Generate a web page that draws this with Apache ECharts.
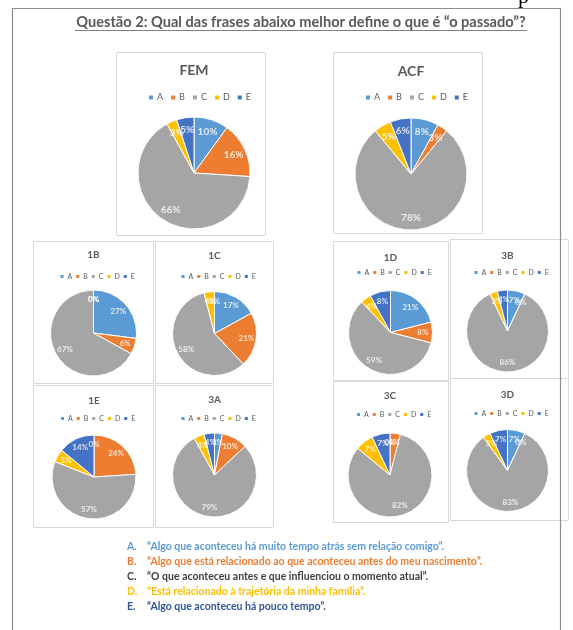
<!DOCTYPE html>
<html>
<head>
<meta charset="utf-8">
<script src="https://cdn.jsdelivr.net/npm/echarts@6/dist/echarts.min.js"></script>
<style>
html,body{margin:0;padding:0;background:#fff;}
#c{width:573px;height:630px;}
</style>
</head>
<body>
<div id="c"></div>
<script>
// Answer options and their colours
const categories = ['A', 'B', 'C', 'D', 'E'];
const sliceColors = ['#5B9BD5', '#ED7D31', '#A5A5A5', '#FFC000', '#4472C4'];

// Group names and percentage of answers per option (A..E)
const panelNames = ['FEM', 'ACF', '1B', '1C', '1D', '3B', '1E', '3A', '3C', '3D'];
const femValues = [10, 16, 66, 3, 5];
const acfValues = [8, 3, 78, 5, 6];
const t1BValues = [27, 6, 67, 0, 0];
const t1CValues = [17, 21, 58, 4, 0];
const t1DValues = [21, 8, 59, 4, 8];
const t3BValues = [7, 0, 86, 3, 4];
const t1EValues = [0, 24, 57, 5, 14];
const t3AValues = [3, 10, 79, 4, 4];
const t3CValues = [0, 4, 82, 7, 7];
const t3DValues = [7, 0, 83, 3, 7];
const panelValues = [femValues, acfValues, t1BValues, t1CValues, t1DValues,
                     t3BValues, t1EValues, t3AValues, t3CValues, t3DValues];

// Key under the charts
const answerKeys = ['A.', 'B.', 'C.', 'D.', 'E.'];
const answerTexts = [
  '\u201CAlgo que aconteceu há muito tempo atrás sem relação comigo\u201D.',
  '\u201CAlgo que está relacionado ao que aconteceu antes do meu nascimento\u201D.',
  '\u201CO que aconteceu antes e que influenciou o momento atual\u201D.',
  '\u201CEstá relacionado à trajetória da minha família\u201D.',
  '\u201CAlgo que aconteceu há pouco tempo\u201D.'
];
const answerColors = ['#5B9BD5', '#ED7D31', '#404040', '#FFC000', '#2F5597'];
const questionTitle = 'Questão 2: Qual das frases abaixo melhor define o que é \u201Co passado\u201D?';

// Placement of each panel on the page
const layout = {
  FEM: { cx: 194,   cy: 173,   r: 56, titleY: 71,  legendY: 97,  box: [116, 52, 149, 183], big: true },
  ACF: { cx: 411,   cy: 174,   r: 56, titleY: 72,  legendY: 97,  box: [333, 52, 149, 181], big: true },
  '1B': { cx: 93.5,  cy: 333,   r: 43, titleY: 256, legendY: 276, box: [33, 241, 120, 142] },
  '1C': { cx: 214.5, cy: 333.5, r: 42, titleY: 257, legendY: 276, box: [155, 241, 118, 142] },
  '1D': { cx: 390.5, cy: 332.5, r: 42, titleY: 259, legendY: 272, box: [333, 241, 115, 139] },
  '3B': { cx: 507.5, cy: 331,   r: 41, titleY: 257, legendY: 272, box: [450, 239, 118, 140] },
  '1E': { cx: 94,    cy: 477,   r: 42, titleY: 402, legendY: 418, box: [33, 385, 120, 142] },
  '3A': { cx: 214.5, cy: 475,   r: 42, titleY: 401, legendY: 418, box: [155, 385, 118, 142] },
  '3C': { cx: 390,   cy: 475,   r: 42, titleY: 397, legendY: 414, box: [333, 381, 115, 141] },
  '3D': { cx: 507.5, cy: 470.5, r: 41, titleY: 396, legendY: 413, box: [450, 378, 118, 142] }
};

const FONT = 'Lato, "Open Sans", sans-serif';
const titles = [], legends = [], series = [], graphics = [];
const polars = [], angleAxes = [], radiusAxes = [];
const hidden = { show: false };

// Page frame and heading
graphics.push({ type: 'rect', shape: { x: 12.5, y: 8.5, width: 548, height: 660 },
  style: { fill: 'none', stroke: '#8c8c8c', lineWidth: 1.2 }, z: 0 });
graphics.push({ type: 'text', x: 518, y: -14,
  style: { text: 'p', font: '22px "Liberation Serif", serif', fill: '#000' } });
graphics.push({ type: 'text', x: 301, y: 22,
  style: { text: questionTitle, font: 'bold 14.6px ' + FONT, fill: '#595959',
           align: 'center', verticalAlign: 'middle' } });
graphics.push({ type: 'line', shape: { x1: 75, y1: 30.5, x2: 527, y2: 30.5 },
  style: { stroke: '#7f7f7f', lineWidth: 1 } });

panelNames.forEach(function (name, i) {
  const L = layout[name];
  const vals = panelValues[i];
  const data = categories.map(function (c, k) {
    return { name: c, value: vals[k], itemStyle: { color: sliceColors[k] } };
  });
  graphics.push({ type: 'rect',
    shape: { x: L.box[0] + 0.5, y: L.box[1] + 0.5, width: L.box[2], height: L.box[3] },
    style: { fill: '#fff', stroke: '#d9d9d9', lineWidth: 1 }, z: -1 });
  titles.push({ text: name, left: L.cx, top: L.titleY - (L.big ? 8 : 6), textAlign: 'center',
    padding: 0,
    textStyle: { fontFamily: FONT, fontWeight: 'bold', fontSize: L.big ? 14 : 10, color: '#595959' } });
  legends.push({ data: categories, left: L.cx - (L.big ? 47 : 35), top: L.legendY - (L.big ? 4 : 3),
    icon: 'rect', itemWidth: L.big ? 6 : 5, itemHeight: L.big ? 6 : 5,
    itemGap: L.big ? 6 : 2, padding: 0, selectedMode: false,
    textStyle: { fontFamily: FONT, fontSize: L.big ? 9 : 7, color: '#595959', padding: [0, 0, 0, -2] } });

  // pie slices, clockwise from 12 o'clock
  series.push({ type: 'pie', name: name, center: [L.cx, L.cy], radius: [0, L.r],
    startAngle: 90, clockwise: true, animation: false, silent: true,
    itemStyle: { borderColor: '#fff', borderWidth: 1 },
    label: { show: false }, labelLine: { show: false }, data: data });

  // percentage labels: a polar frame over the pie, angle axis running 0..100 %
  polars.push({ center: [L.cx, L.cy], radius: L.r });
  angleAxes.push({ polarIndex: i, type: 'value', min: 0, max: 100, startAngle: 90, clockwise: true,
    show: false, axisLine: hidden, axisTick: hidden, axisLabel: hidden, splitLine: hidden });
  radiusAxes.push({ polarIndex: i, type: 'value', min: 0, max: 1,
    show: false, axisLine: hidden, axisTick: hidden, axisLabel: hidden, splitLine: hidden });
  let acc = 0;
  const labelPoints = vals.map(function (v) {
    const mid = acc + v / 2;
    acc += v;
    return [L.big ? 0.78 : 0.77, mid, v];
  });
  series.push({ type: 'scatter', coordinateSystem: 'polar', polarIndex: i, symbolSize: 0,
    silent: true, animation: false, data: labelPoints,
    label: { show: true, position: 'inside', color: '#fff', fontFamily: FONT, fontWeight: 'bold',
             fontSize: L.big ? 10 : 8,
             formatter: function (p) { return p.value[2] + '%'; } } });
});

// Answer key
answerKeys.forEach(function (key, k) {
  const y = 547 + k * 14.8;
  graphics.push({ type: 'text', x: 127, y: y,
    style: { text: key, font: 'bold 10.5px ' + FONT, fill: answerColors[k], verticalAlign: 'middle' } });
  graphics.push({ type: 'text', x: 147, y: y,
    style: { text: answerTexts[k], font: 'bold 10.5px ' + FONT, fill: answerColors[k], verticalAlign: 'middle' } });
});

const chart = echarts.init(document.getElementById('c'), null, { renderer: 'canvas' });
chart.setOption({
  backgroundColor: '#fff',
  animation: false,
  title: titles,
  legend: legends,
  polar: polars,
  angleAxis: angleAxes,
  radiusAxis: radiusAxes,
  series: series,
  graphic: { elements: graphics }
});
</script>
</body>
</html>
